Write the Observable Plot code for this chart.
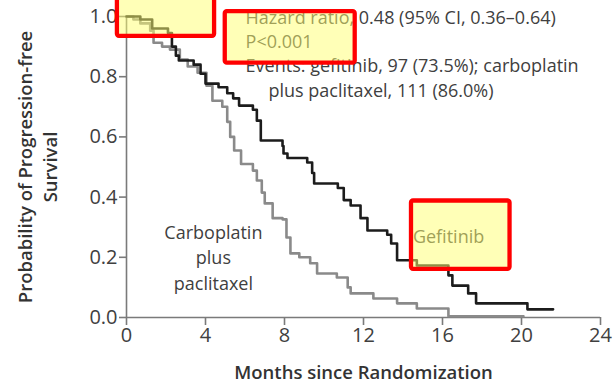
<!DOCTYPE html>
<html><head><meta charset="utf-8">
<script src="https://cdn.jsdelivr.net/npm/d3@7"></script>
<script src="https://cdn.jsdelivr.net/npm/@observablehq/plot@0.6"></script>
<style>body{margin:0;background:#fff;}</style>
</head><body><div id="chart"></div>
<script>
// Kaplan–Meier step data (months, probability of progression-free survival)
const gefTime = [0, 0.7, 1.3, 2.1, 2.3, 2.5, 2.65, 3.4, 3.75, 4.0, 4.66, 5.1, 5.4, 5.7, 6.4, 6.6, 6.8, 7.9, 7.95, 8.15, 9.15, 9.4, 9.5, 10.7, 11.0, 11.35, 11.85, 12.2, 13.2, 13.4, 13.7, 14.7, 16.3, 16.5, 17.3, 17.7, 20.3, 21.6];
const gefSurv = [1.0, 0.99, 0.96, 0.945, 0.90, 0.87, 0.854, 0.84, 0.81, 0.777, 0.765, 0.745, 0.728, 0.704, 0.69, 0.654, 0.588, 0.57, 0.545, 0.53, 0.515, 0.48, 0.445, 0.43, 0.39, 0.372, 0.33, 0.289, 0.275, 0.246, 0.19, 0.173, 0.14, 0.106, 0.08, 0.047, 0.027, 0.027];
const carTime = [0, 0.35, 0.7, 1.2, 1.37, 1.8, 2.2, 2.7, 3.1, 3.6, 4.05, 4.35, 4.85, 5.1, 5.25, 5.45, 5.8, 6.4, 6.6, 6.85, 7.0, 7.4, 7.9, 8.1, 8.3, 8.75, 9.3, 9.65, 10.65, 11.2, 11.35, 12.5, 13.7, 14.7, 16.3, 20.1];
const carSurv = [1.0, 0.99, 0.977, 0.953, 0.913, 0.9, 0.89, 0.857, 0.834, 0.813, 0.77, 0.72, 0.70, 0.65, 0.60, 0.555, 0.51, 0.488, 0.455, 0.415, 0.379, 0.33, 0.326, 0.266, 0.213, 0.2, 0.18, 0.146, 0.133, 0.1, 0.08, 0.063, 0.047, 0.03, 0.004, 0.004];

const xTicks = [0, 4, 8, 12, 16, 20, 24];
const yTicks = [0, 0.2, 0.4, 0.6, 0.8, 1.0];
const xLabel = "Months since Randomization";
const yLabel = "Probability of Progression-free\nSurvival";
const statLines = ["Hazard ratio, 0.48 (95% CI, 0.36–0.64)", "P<0.001", "Events: gefitinib, 97 (73.5%); carboplatin", "plus paclitaxel, 111 (86.0%)"];
const carbLabel = "Carboplatin\nplus\npaclitaxel";
const gefLabel = "Gefitinib";

const gef = gefTime.map((t, i) => ({t, s: gefSurv[i]}));
const car = carTime.map((t, i) => ({t, s: carSurv[i]}));

// highlight boxes (annotation overlay, in data units)
const boxes = [
  {x1: -0.46, x2: 4.46, y1: 0.934, y2: 1.09},
  {x1: 5.0, x2: 11.58, y1: 0.845, y2: 1.016},
  {x1: 14.43, x2: 19.42, y1: 0.160, y2: 0.387}
];

const font = "'Open Sans', 'Noto Sans', sans-serif";
const axisGray = "#7a7a7a";
const textGray = "#404040";

const chart = Plot.plot({
  width: 615, height: 391,
  marginLeft: 126, marginRight: 15, marginTop: 16, marginBottom: 74,
  style: {fontFamily: font, color: textGray, background: "#fff"},
  x: {domain: [0, 24]},
  y: {domain: [0, 1]},
  marks: [
    Plot.axisX({ticks: xTicks, tickSize: 8, tickPadding: 2, fontSize: 20, stroke: axisGray, strokeWidth: 1.6, label: null}),
    Plot.axisY({ticks: yTicks, tickFormat: d3.format(".1f"), tickSize: 7, tickPadding: 2, fontSize: 20, stroke: axisGray, strokeWidth: 1.6, label: null}),
    Plot.ruleY([0], {stroke: axisGray, strokeWidth: 1.6}),
    Plot.ruleX([0], {stroke: axisGray, strokeWidth: 1.6}),
    Plot.line(car, {x: "t", y: "s", curve: "step-after", stroke: "#8a8a8a", strokeWidth: 2.6}),
    Plot.line(gef, {x: "t", y: "s", curve: "step-after", stroke: "#1c1c1c", strokeWidth: 2.6}),
    Plot.text(statLines, {x: [6.03, 6.03, 6.03, 7.19], y: [0.993, 0.914, 0.834, 0.751], text: d => d, textAnchor: "start", fontSize: 18, fill: textGray}),
    Plot.text([carbLabel], {x: 4.4, y: 0.203, text: d => d, textAnchor: "middle", fontSize: 18, lineHeight: 1.4, fill: textGray}),
    Plot.text([gefLabel], {x: 14.5, y: 0.266, text: d => d, textAnchor: "start", fontSize: 18, fill: textGray}),
    Plot.text([yLabel], {frameAnchor: "left", dx: -90, rotate: -90, text: d => d, textAnchor: "middle", lineAnchor: "middle", fontSize: 18.5, fontWeight: 600, lineHeight: 1.36, fill: "#333"}),
    Plot.text([xLabel], {frameAnchor: "bottom", dy: 61, text: d => d, textAnchor: "middle", fontSize: 18.5, fontWeight: 600, fill: "#333"}),
    Plot.rect(boxes, {x1: "x1", x2: "x2", y1: "y1", y2: "y2", fill: "#ffff70", fillOpacity: 0.5, stroke: "#ff0000", strokeWidth: 4.3, rx: 2})
  ]
});
document.getElementById("chart").appendChild(chart);
</script>
</body></html>
